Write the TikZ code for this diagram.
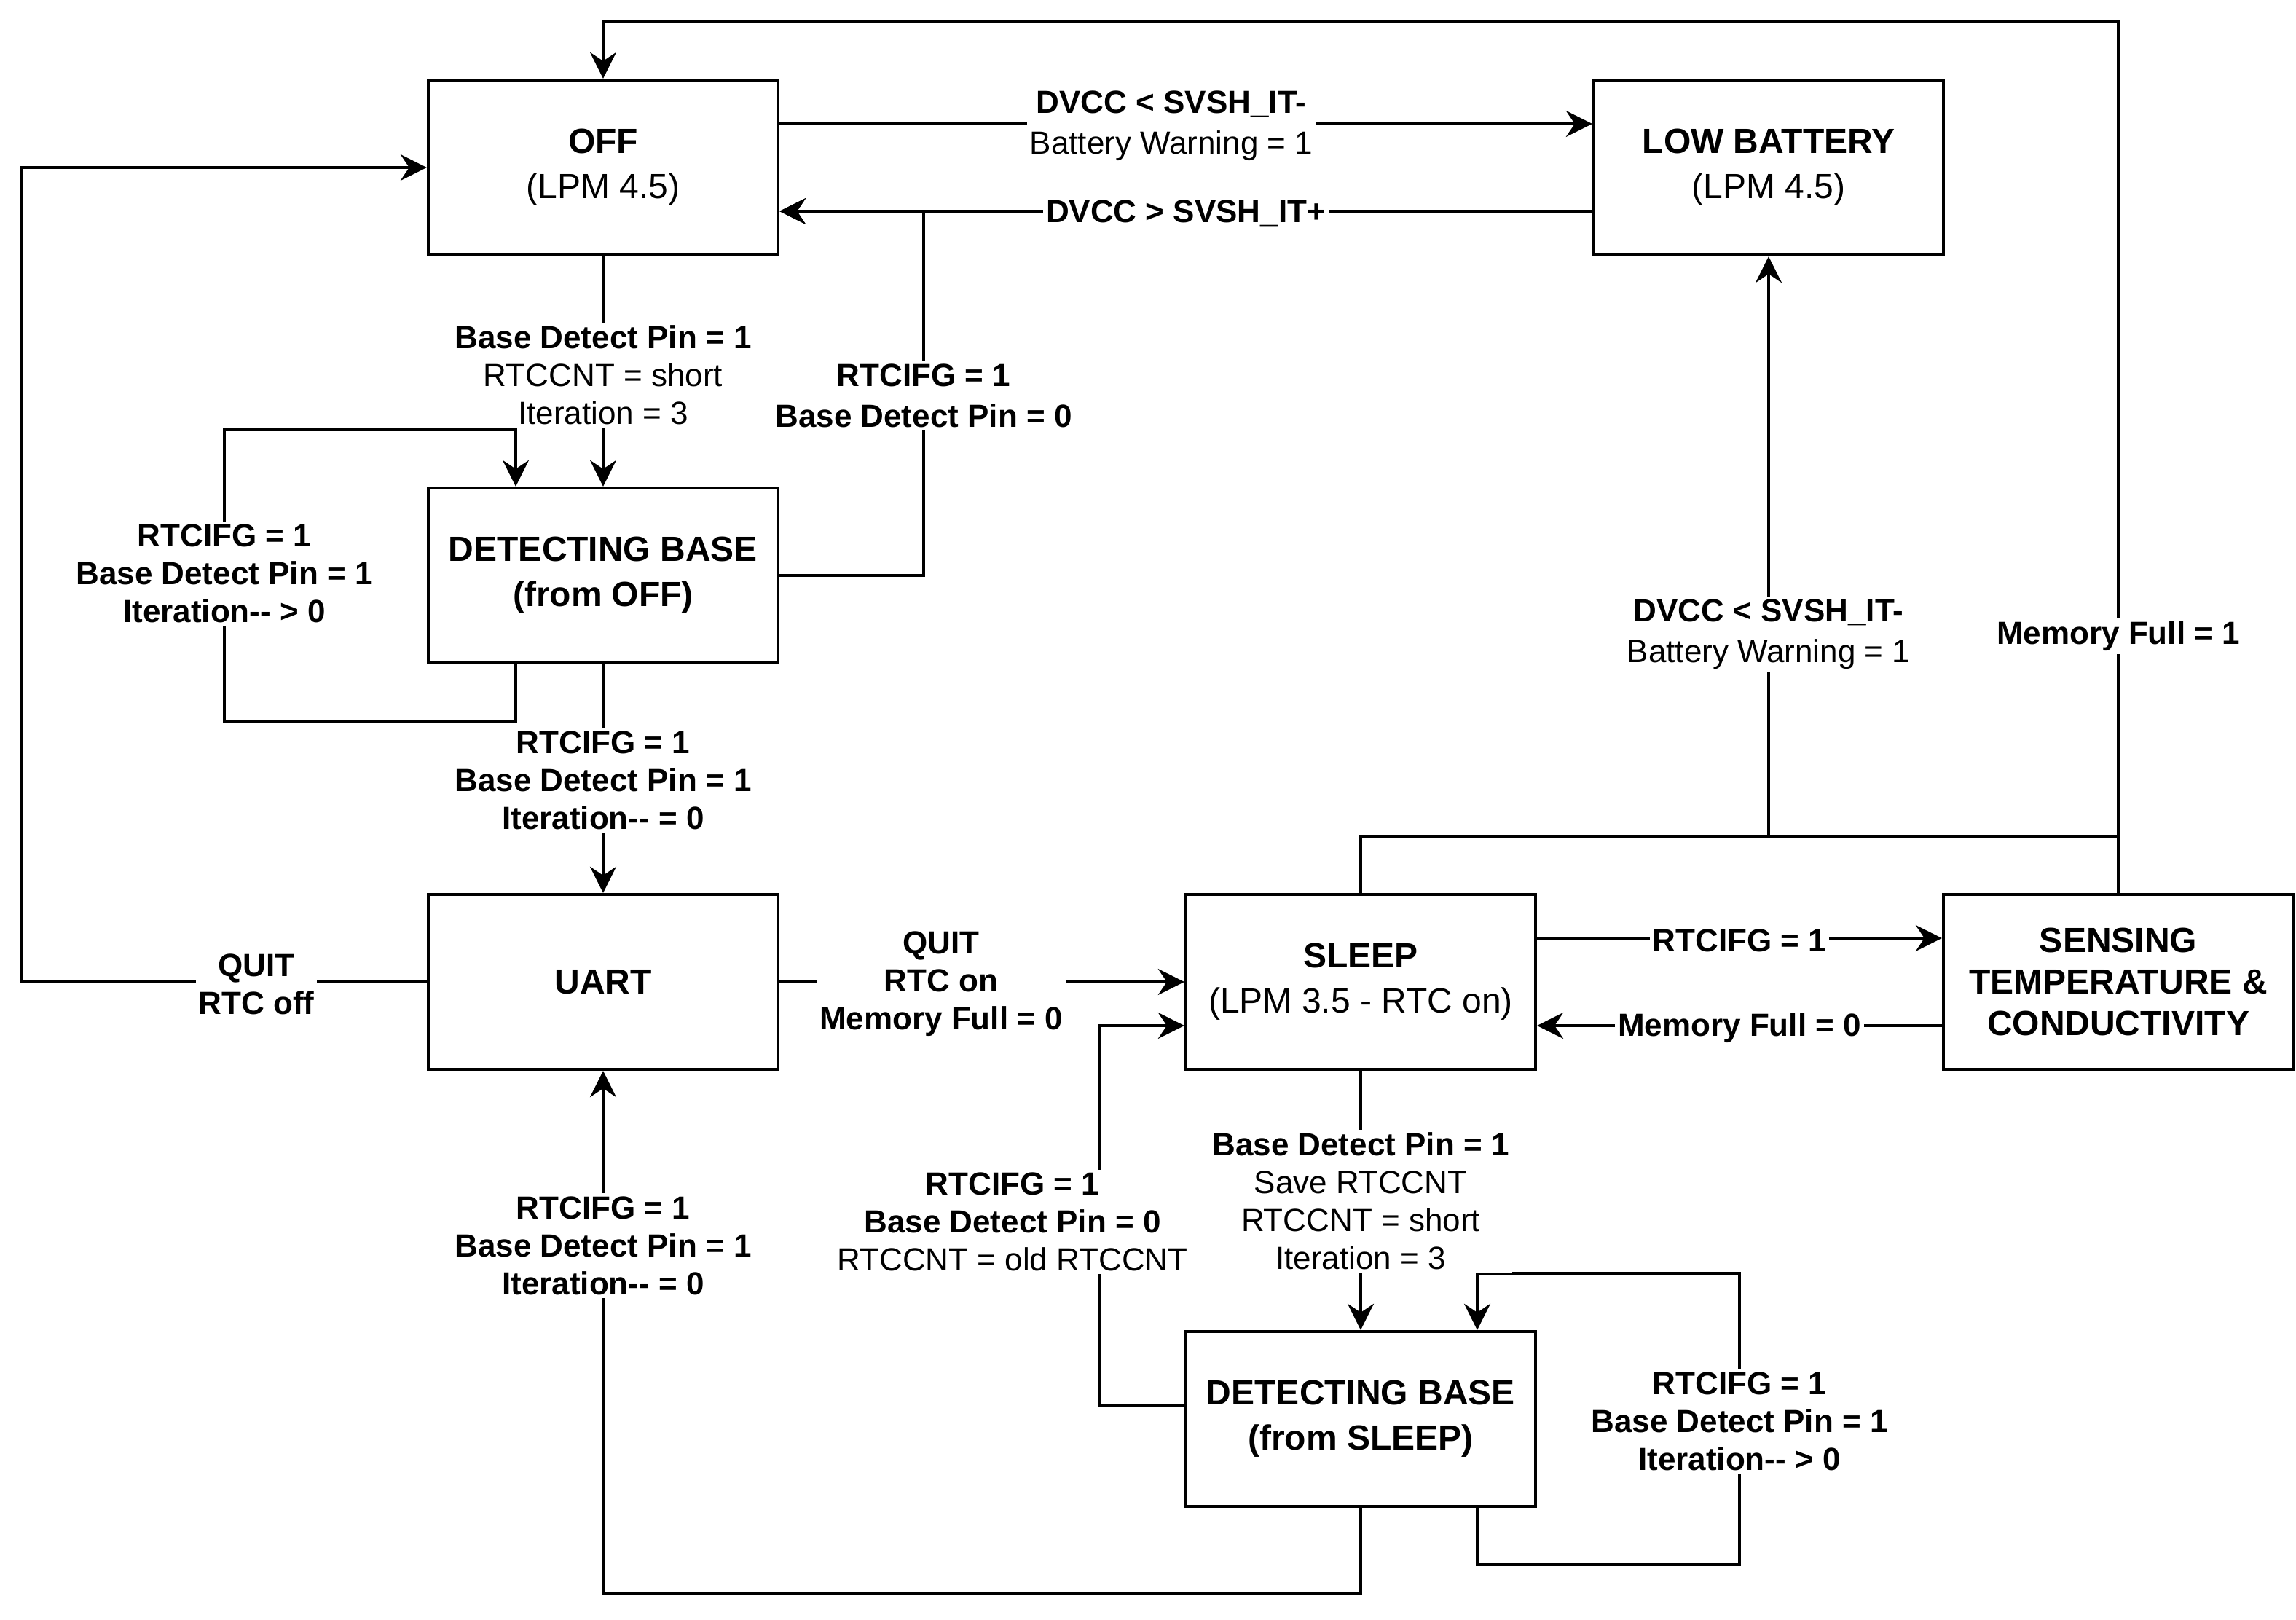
\documentclass[tikz,border=0pt]{standalone}
\usepackage{fontspec}
\setmainfont{Liberation Sans}
\usetikzlibrary{arrows.meta}
\begin{document}
\begin{tikzpicture}[x=1pt,y=-1pt,
  state/.style={draw, line width=1.1pt, minimum width=120pt, minimum height=60pt,
    inner sep=0pt, align=center, font=\fontsize{12}{15.5}\selectfont},
  wire/.style={line width=1pt},
  flow/.style={wire, -{Stealth[length=9pt,width=9pt,inset=3pt]}},
  cond/.style={fill=white, inner sep=1pt, align=center, yshift=-0.8pt,
    font=\fontsize{11}{13}\selectfont},
  wide/.style={font=\fontsize{11}{14}\selectfont},
]
\useasboundingbox (0,0) rectangle (788,556);

% states
\node[state] (off) at (207,57.5) {\textbf{OFF}\\(LPM 4.5)};
\node[state] (lowbat) at (607,57.5) {\textbf{LOW BATTERY}\\(LPM 4.5)};
\node[state] (detoff) at (207,197.5) {\textbf{DETECTING BASE}\\\textbf{(from OFF)}};
\node[state] (uart) at (207,337) {\textbf{UART}};
\node[state] (sleep) at (467,337) {\textbf{SLEEP}\\(LPM 3.5 - RTC on)};
\node[state, font=\fontsize{12}{14.3}\selectfont] (sens) at (727,337)
  {\textbf{SENSING}\\\textbf{TEMPERATURE \&}\\\textbf{CONDUCTIVITY}};
\node[state] (detsleep) at (467,487) {\textbf{DETECTING BASE}\\\textbf{(from SLEEP)}};

\coordinate (jmem) at (727,287);
\coordinate (jlow) at (607,287);

% transitions
\draw[flow] ([yshift=15pt]off.east) -- ([yshift=15pt]lowbat.west);
\draw[flow] ([yshift=-15pt]lowbat.west) -- ([yshift=-15pt]off.east);
\draw[flow] (detoff.east) -| (317,72.5) -- ([yshift=-15pt]off.east);
\draw[flow] (off.south) -- (detoff.north);
\draw[flow] ([xshift=-30pt]detoff.south) -- ++(0,19.5) -| (77,147.5) -| ([xshift=-30pt]detoff.north);
\draw[flow] (detoff.south) -- (uart.north);
\draw[flow] (uart.west) -- (7.5,337) |- (off.west);
\draw[flow] (uart.east) -- (sleep.west);
\draw[flow] ([yshift=15pt]sleep.east) -- ([yshift=15pt]sens.west);
\draw[flow] ([yshift=-15pt]sens.west) -- ([yshift=-15pt]sleep.east);
\draw[flow] (sleep.south) -- (detsleep.north);
\draw[flow] ([xshift=40pt]detsleep.south) -- ++(0,19.5) -| (597,437) -| ([xshift=40pt]detsleep.north);
\draw[flow] ([yshift=4.5pt]detsleep.west) -| (377.5,352) -- ([yshift=-15pt]sleep.west);
\draw[flow] (detsleep.south) -- (467,547) -| (uart.south);
\draw[wire] (sleep.north) |- (jmem);
\draw[flow] (jlow) -- (lowbat.south);
\draw[flow] (sens.north) -- (727,7.5) -| (off.north);

% transition conditions
\node[cond, wide] (c1) at (402,42.5) {\textbf{DVCC < SVSH\_IT-}\\Battery Warning = 1};
\node[cond] (c2) at (407,72.5) {\textbf{DVCC > SVSH\_IT+}};
\node[cond, wide] (c3) at (317,135) {\textbf{RTCIFG = 1}\\\textbf{Base Detect Pin = 0}};
\node[cond] (c4) at (207,128) {\textbf{Base Detect Pin = 1}\\RTCCNT = short\\Iteration = 3};
\node[cond] (c5) at (77,196) {\textbf{RTCIFG = 1}\\\textbf{Base Detect Pin = 1}\\\textbf{Iteration-{}- > 0}};
\node[cond] (c6) at (207,267) {\textbf{RTCIFG = 1}\\\textbf{Base Detect Pin = 1}\\\textbf{Iteration-{}- = 0}};
\node[cond] (c7) at (88,337) {\textbf{QUIT}\\\textbf{RTC off}};
\node[cond] (c8) at (323,337) {\textbf{QUIT}\\\textbf{RTC on}\\\textbf{Memory Full = 0}};
\node[cond] (c9) at (597,322) {\textbf{RTCIFG = 1}};
\node[cond] (c10) at (597,352) {\textbf{Memory Full = 0}};
\node[cond] (c11) at (467,411.5) {\textbf{Base Detect Pin = 1}\\Save RTCCNT\\RTCCNT = short\\Iteration = 3};
\node[cond] (c12) at (597,487) {\textbf{RTCIFG = 1}\\\textbf{Base Detect Pin = 1}\\\textbf{Iteration-{}- > 0}};
\node[cond] (c13) at (347.5,418.6) {\textbf{RTCIFG = 1}\\\textbf{Base Detect Pin = 0}\\RTCCNT = old RTCCNT};
\node[cond] (c14) at (207,426.7) {\textbf{RTCIFG = 1}\\\textbf{Base Detect Pin = 1}\\\textbf{Iteration-{}- = 0}};
\node[cond, wide] (c15) at (607,217) {\textbf{DVCC < SVSH\_IT-}\\Battery Warning = 1};
\node[cond] (c16) at (727,217.5) {\textbf{Memory Full = 1}};
\end{tikzpicture}
\end{document}
